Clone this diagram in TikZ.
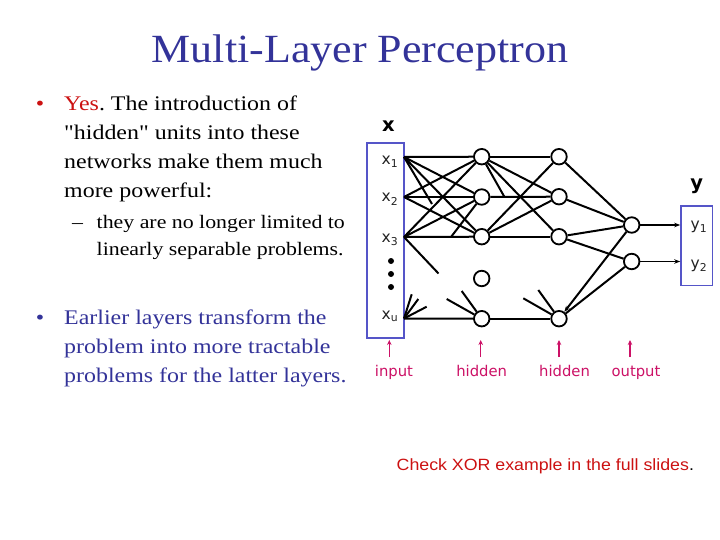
\documentclass[tikz,border=0pt]{standalone}
\usepackage{fontspec}
\setmainfont{Liberation Serif}
\newfontfamily\bodyfont{Liberation Serif}[FakeStretch=1.15]
\newfontfamily\titlefont{Liberation Serif}[FakeStretch=1.1]
\newfontfamily\netfont{DejaVu Sans}
\newfontfamily\checkfont{Liberation Sans}[FakeStretch=1.09]
\usetikzlibrary{arrows.meta}
\frenchspacing
\definecolor{titleblue}{RGB}{51,51,153}
\definecolor{bodyblue}{RGB}{51,51,153}
\definecolor{yesred}{RGB}{204,17,17}
\definecolor{boxblue}{RGB}{85,85,200}
\definecolor{labmag}{RGB}{204,17,102}
\definecolor{labgray}{RGB}{34,34,34}
\tikzset{
  bodyline/.style={anchor=base west, inner sep=0, font=\bodyfont\fontsize{20.8}{25}\selectfont},
  subline/.style={anchor=base west, inner sep=0, font=\bodyfont\fontsize{19}{23}\selectfont},
  neuron/.style={circle, draw, line width=1.8pt, minimum size=15.5pt, inner sep=0},
  conn/.style={line width=2pt, black},
  vecbox/.style={draw=boxblue, line width=1.7pt, inner sep=0},
  unitlab/.style={anchor=base, inner sep=0, text=labgray, font=\netfont\fontsize{15.5}{17}\selectfont},
  veclab/.style={anchor=base, inner sep=0, text=black, font=\netfont\bfseries\fontsize{19.5}{20}\selectfont},
  layerlab/.style={anchor=base, inner sep=0, text=labmag, font=\netfont\fontsize{14.8}{16}\selectfont},
  layerarrow/.style={draw=labmag, line width=1.5pt, -{Stealth[length=5pt,width=4.5pt]}},
  outarrow/.style={conn, line width=1.5pt, -{Stealth[length=6pt,width=4.5pt]}}
}
\begin{document}
\begin{tikzpicture}[x=1pt,y=-1pt]
\useasboundingbox (0,0) rectangle (720,540);
\fill[white] (0,0) rectangle (720,540);

% title
\node[anchor=base, inner sep=0, text=titleblue, font=\titlefont\fontsize{40}{48}\selectfont] (title) at (360,63) {Multi-Layer Perceptron};

% bullet 1
\node[bodyline, text=yesred, anchor=base] (b1dot) at (40,111) {•};
\node[bodyline] (l1) at (64,111) {\textcolor{yesred}{Yes}. The introduction of};
\node[bodyline] (l2) at (64,139.7) {"hidden" units into these};
\node[bodyline] (l3) at (64,168.3) {networks make them much};
\node[bodyline] (l4) at (64,197) {more powerful:};
\node[subline, anchor=base] (sdash) at (77.5,228.3) {–};
\node[subline] (s1) at (96.5,228.3) {they are no longer limited to};
\node[subline] (s2) at (96.5,255) {linearly separable problems.};

% bullet 2
\node[bodyline, text=bodyblue, anchor=base] (b2dot) at (40,324) {•};
\node[bodyline, text=bodyblue] (m1) at (64,324) {Earlier layers transform the};
\node[bodyline, text=bodyblue] (m2) at (64,353) {problem into more tractable};
\node[bodyline, text=bodyblue] (m3) at (64,382) {problems for the latter layers.};

% note
\node[anchor=base west, inner sep=0, text=yesred, font=\checkfont\fontsize{16.3}{19}\selectfont] (note) at (396.5,470.7) {Check XOR example in the full slides\textcolor{black}{.}};

% ---------- network ----------
\node[vecbox, minimum width=37pt, minimum height=195pt] (inbox) at (385.5,240.5) {};
\node[vecbox, minimum width=31.5pt, minimum height=79.5pt] (outbox) at (696.8,245.7) {};
\node[veclab] (xlab) at (388.3,131.7) {x};
\node[veclab] (ylab) at (696.7,190) {y};

\node[unitlab] (x1) at (390,165) {x\textsubscript{1}};
\node[unitlab] (x2) at (390,202) {x\textsubscript{2}};
\node[unitlab] (x3) at (390,242) {x\textsubscript{3}};
\node[unitlab] (xu) at (390,319.3) {x\textsubscript{u}};
\node[unitlab] (y1) at (699,229.5) {y\textsubscript{1}};
\node[unitlab] (y2) at (699,268) {y\textsubscript{2}};
\fill (391,261) circle (3pt);
\fill (391,274) circle (3pt);
\fill (391,287) circle (3pt);

\coordinate (i1) at (404,157);
\coordinate (i2) at (404,197);
\coordinate (i3) at (404,237);
\coordinate (iu) at (404,318.5);

\node[neuron] (a1) at (481.7,156.7) {};
\node[neuron] (a2) at (481.7,197) {};
\node[neuron] (a3) at (481.7,236.7) {};
\node[neuron] (a4) at (481.7,278.5) {};
\node[neuron] (au) at (481.7,318.7) {};
\node[neuron] (h1) at (559,156.7) {};
\node[neuron] (h2) at (559,196.7) {};
\node[neuron] (h3) at (559,236.7) {};
\node[neuron] (hu) at (559,318.7) {};
\node[neuron] (o1) at (631.7,225) {};
\node[neuron] (o2) at (631.7,261.5) {};

% stub end points
\coordinate (s1a) at (432,204);
\coordinate (s3a) at (438.5,273.5);
\coordinate (sua) at (411.7,294.3);
\coordinate (sub) at (418.3,299);
\coordinate (suc) at (426.7,306.7);
\coordinate (sa2) at (451,237);
\coordinate (sau1) at (446.7,299);
\coordinate (sau2) at (461.7,291);
\coordinate (sa1) at (504.3,196.7);
\coordinate (shu1) at (523.3,298.3);
\coordinate (shu2) at (538.3,290);

% input -> hidden 1
\draw[conn] (i1) -- (a1);
\draw[conn] (i1) -- (a2);
\draw[conn] (i1) -- (a3);
\draw[conn] (i1) -- (s1a);
\draw[conn] (i2) -- (a1);
\draw[conn] (i2) -- (a2);
\draw[conn] (i2) -- (a3);
\draw[conn] (i3) -- (a1);
\draw[conn] (i3) -- (a2);
\draw[conn] (i3) -- (a3);
\draw[conn] (i3) -- (s3a);
\draw[conn] (iu) -- (au);
\draw[conn] (iu) -- (sua);
\draw[conn] (iu) -- (sub);
\draw[conn] (iu) -- (suc);
\draw[conn] (a2) -- (sa2);
\draw[conn] (sau1) -- (au);
\draw[conn] (sau2) -- (au);

% hidden 1 -> hidden 2
\draw[conn] (a1) -- (h1);
\draw[conn] (a1) -- (h2);
\draw[conn] (a1) -- (h3);
\draw[conn] (a1) -- (sa1);
\draw[conn] (a2) -- (h2);
\draw[conn] (a3) -- (h1);
\draw[conn] (a3) -- (h2);
\draw[conn] (a3) -- (h3);
\draw[conn] (au) -- (hu);
\draw[conn] (shu1) -- (hu);
\draw[conn] (shu2) -- (hu);

% hidden 2 -> output
\draw[conn] (h1) -- (o1);
\draw[conn] (h2) -- (o1);
\draw[conn] (h3) -- (o1);
\draw[conn] (h3) -- (o2);
\draw[conn, -{Stealth[length=6pt,width=4.5pt]}] (o1) -- (hu);
\draw[conn] (o2) -- (hu);

\draw[outarrow] (o1) -- (outbox.west |- o1);
\draw[outarrow] (o2) -- (outbox.west |- o2);

% layer labels
\node[layerlab] (linput) at (394,376) {input};
\node[layerlab] (lh1) at (481.7,376) {hidden};
\node[layerlab] (lh2) at (564.5,376) {hidden};
\node[layerlab] (lout) at (636,376) {output};
\coordinate (ta) at (389.3,357);
\coordinate (tb) at (480.7,357);
\coordinate (tc) at (559,357);
\coordinate (td) at (630,357);
\draw[layerarrow] (ta) -- (389.3,340);
\draw[layerarrow] (tb) -- (480.7,340);
\draw[layerarrow] (tc) -- (559,340);
\draw[layerarrow] (td) -- (630,340);
\end{tikzpicture}
\end{document}
